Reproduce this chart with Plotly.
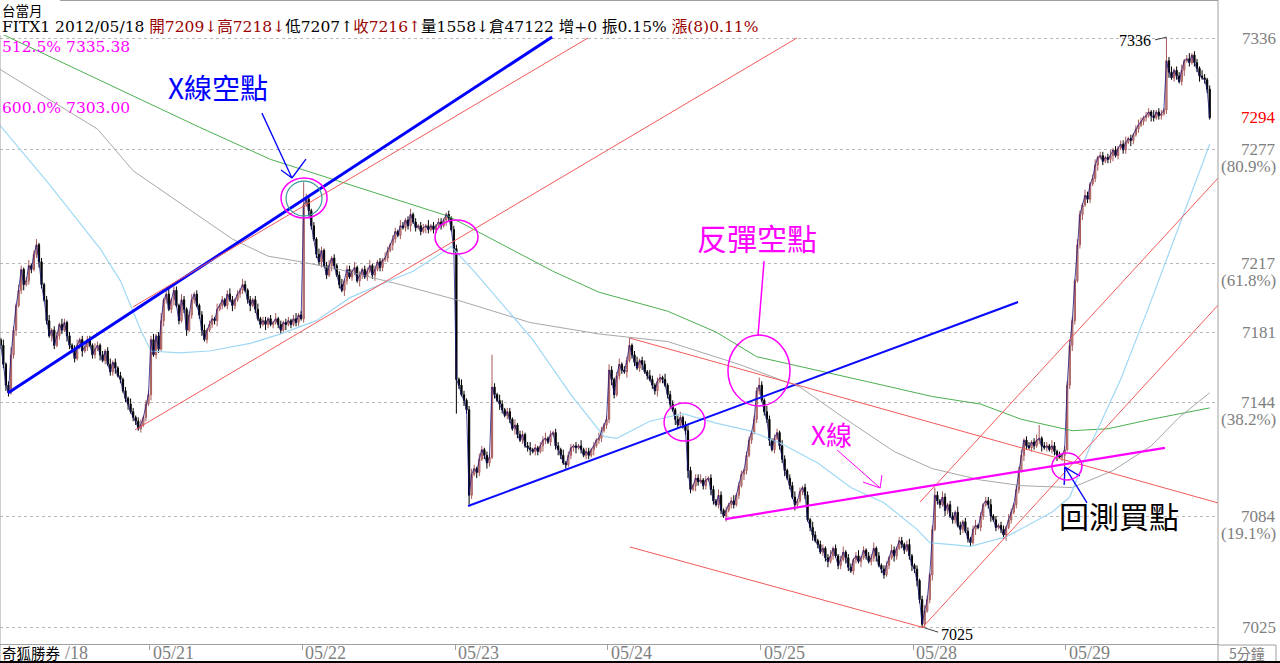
import plotly.graph_objects as go

# ---------------- data (5-minute bars, TAIEX futures FITX1) ----------------
days = ["05/18", "05/21", "05/22", "05/23", "05/24", "05/25", "05/28", "05/29"]
first_open = 7180

close_0518 = [7177, 7174, 7164, 7153, 7149, 7169, 7182, 7195, 7203, 7214,
              7206, 7208, 7216, 7214, 7222, 7227, 7218, 7206, 7198, 7187,
              7179, 7182, 7174, 7179, 7185, 7182, 7186, 7179, 7174, 7172,
              7167, 7174, 7177, 7171, 7173, 7177, 7174, 7169, 7172, 7174,
              7169, 7166, 7171, 7164, 7160, 7165, 7162, 7158, 7156, 7150,
              7146, 7143, 7139, 7136, 7134, 7130, 7132, 7136, 7143, 7148]
close_0521 = [7177, 7169, 7179, 7172, 7187, 7198, 7201, 7193, 7198, 7203,
              7195, 7187, 7198, 7193, 7182, 7190, 7198, 7201, 7195, 7190,
              7182, 7177, 7182, 7185, 7188, 7187, 7193, 7195, 7198, 7195,
              7201, 7198, 7195, 7198, 7201, 7203, 7206, 7203, 7198, 7195,
              7198, 7193, 7188, 7185, 7187, 7185, 7188, 7185, 7186, 7188,
              7185, 7182, 7186, 7185, 7187, 7185, 7188, 7186, 7190, 7188]
close_0522 = [7248, 7251, 7245, 7237, 7230, 7222, 7218, 7224, 7216, 7211,
              7216, 7220, 7216, 7211, 7206, 7203, 7208, 7214, 7210, 7213,
              7215, 7208, 7211, 7214, 7210, 7213, 7216, 7211, 7214, 7218,
              7215, 7219, 7220, 7224, 7227, 7230, 7234, 7232, 7237, 7236,
              7240, 7237, 7243, 7239, 7236, 7237, 7234, 7236, 7237, 7235,
              7237, 7235, 7237, 7239, 7237, 7240, 7243, 7241, 7235, 7225]
close_0523 = [7156, 7153, 7148, 7145, 7140, 7095, 7106, 7109, 7107, 7114,
              7119, 7116, 7112, 7115, 7152, 7148, 7145, 7143, 7140, 7137,
              7139, 7135, 7130, 7132, 7127, 7124, 7127, 7121, 7120, 7119,
              7118, 7120, 7118, 7121, 7124, 7125, 7123, 7127, 7128, 7121,
              7119, 7116, 7112, 7111, 7116, 7120, 7121, 7120, 7121, 7119,
              7116, 7118, 7116, 7119, 7121, 7124, 7125, 7129, 7132, 7135]
close_0524 = [7161, 7156, 7148, 7158, 7164, 7161, 7160, 7166, 7174, 7169,
              7165, 7162, 7166, 7164, 7160, 7158, 7156, 7153, 7150, 7155,
              7157, 7156, 7153, 7148, 7143, 7140, 7135, 7132, 7136, 7132,
              7129, 7108, 7098, 7100, 7104, 7102, 7103, 7100, 7103, 7104,
              7098, 7092, 7090, 7095, 7087, 7084, 7087, 7090, 7092, 7090,
              7095, 7100, 7106, 7108, 7116, 7124, 7128, 7135, 7150, 7153]
close_0525 = [7145, 7139, 7135, 7124, 7119, 7125, 7128, 7121, 7114, 7108,
              7104, 7100, 7094, 7090, 7092, 7097, 7099, 7095, 7082, 7078,
              7074, 7071, 7069, 7065, 7067, 7062, 7060, 7063, 7067, 7063,
              7058, 7061, 7065, 7062, 7057, 7055, 7061, 7063, 7060, 7062,
              7066, 7063, 7060, 7062, 7067, 7063, 7058, 7056, 7053, 7058,
              7062, 7066, 7063, 7067, 7071, 7069, 7066, 7069, 7063, 7058]
close_0528 = [7056, 7050, 7040, 7027, 7034, 7040, 7053, 7077, 7095, 7092,
              7090, 7094, 7087, 7090, 7084, 7082, 7086, 7079, 7077, 7081,
              7076, 7072, 7070, 7077, 7079, 7078, 7084, 7090, 7092, 7090,
              7084, 7082, 7078, 7079, 7077, 7074, 7078, 7082, 7086, 7090,
              7098, 7108, 7116, 7124, 7121, 7120, 7123, 7121, 7124, 7125,
              7121, 7120, 7121, 7119, 7121, 7118, 7116, 7115, 7116, 7119]
close_0529 = [7153, 7174, 7187, 7208, 7227, 7243, 7248, 7253, 7251, 7259,
              7262, 7269, 7273, 7274, 7271, 7273, 7272, 7274, 7277, 7274,
              7278, 7280, 7277, 7281, 7283, 7282, 7285, 7288, 7290, 7292,
              7294, 7295, 7297, 7295, 7294, 7297, 7295, 7296, 7298, 7324,
              7318, 7315, 7319, 7316, 7313, 7319, 7324, 7325, 7323, 7327,
              7323, 7320, 7316, 7315, 7314, 7309, 7294]

# upper / lower shadow length of each bar (points)
up_0518 = [2, 1, 3, 1, 2, 4, 2, 1, 3, 2, 1, 2, 3, 1, 2, 3, 1, 2, 1, 2,
           3, 1, 2, 2, 1, 3, 2, 1, 2, 1, 2, 3, 1, 2, 1, 2, 2, 1, 3, 2,
           1, 2, 1, 2, 3, 1, 2, 1, 2, 1, 2, 1, 3, 2, 1, 2, 3, 1, 2, 2]
dn_0518 = [1, 2, 2, 3, 2, 1, 2, 3, 1, 2, 3, 1, 2, 2, 1, 2, 3, 2, 1, 2,
           1, 3, 2, 1, 2, 2, 1, 3, 2, 1, 2, 1, 2, 3, 1, 2, 1, 2, 2, 1,
           3, 1, 2, 1, 2, 2, 3, 1, 2, 1, 2, 3, 1, 2, 2, 1, 2, 1, 2, 1]
up_0521 = [2, 3, 1, 2, 4, 1, 2, 3, 1, 2, 2, 1, 3, 2, 1, 2, 3, 1, 2, 1,
           2, 3, 1, 2, 2, 1, 3, 1, 2, 1, 2, 3, 2, 1, 2, 1, 3, 2, 1, 2,
           1, 2, 3, 1, 2, 2, 1, 2, 1, 3, 1, 2, 1, 2, 2, 1, 2, 3, 1, 2]
dn_0521 = [3, 1, 2, 2, 1, 3, 2, 1, 2, 3, 1, 2, 1, 2, 3, 1, 2, 2, 1, 2,
           3, 1, 2, 1, 2, 2, 3, 1, 2, 1, 2, 1, 3, 2, 1, 2, 2, 1, 2, 3,
           1, 2, 1, 2, 1, 3, 2, 1, 2, 1, 2, 2, 1, 3, 1, 2, 1, 2, 2, 1]
up_0522 = [12, 3, 2, 1, 2, 1, 3, 2, 1, 2, 3, 1, 2, 1, 2, 3, 1, 2, 2, 1,
           3, 1, 2, 1, 2, 2, 3, 1, 2, 1, 2, 1, 3, 2, 1, 2, 2, 1, 3, 2,
           1, 2, 3, 1, 2, 1, 2, 2, 1, 3, 1, 2, 1, 2, 2, 1, 1, 2, 1, 2]
dn_0522 = [2, 1, 3, 2, 1, 2, 2, 3, 1, 2, 1, 3, 2, 1, 2, 1, 3, 2, 1, 2,
           2, 1, 3, 2, 1, 2, 1, 2, 3, 1, 2, 2, 1, 2, 1, 3, 2, 1, 2, 1,
           2, 2, 3, 1, 2, 1, 2, 1, 3, 2, 1, 2, 2, 1, 2, 1, 3, 2, 1, 2]
up_0523 = [2, 1, 3, 2, 1, 2, 3, 2, 1, 3, 2, 1, 2, 2, 17, 2, 1, 3, 2, 1,
           2, 2, 1, 3, 1, 2, 2, 1, 2, 3, 1, 2, 1, 2, 2, 3, 1, 2, 1, 2,
           2, 1, 3, 1, 2, 2, 1, 2, 1, 3, 1, 2, 2, 1, 2, 1, 3, 2, 1, 2]
dn_0523 = [18, 2, 1, 3, 2, 5, 2, 1, 3, 2, 1, 2, 3, 2, 1, 2, 1, 3, 2, 1,
           2, 2, 1, 3, 2, 1, 2, 1, 2, 3, 1, 2, 2, 1, 3, 2, 1, 2, 1, 2,
           3, 2, 1, 2, 1, 2, 2, 3, 1, 2, 1, 2, 2, 1, 3, 1, 2, 2, 1, 2]
up_0524 = [3, 2, 1, 2, 3, 1, 2, 2, 4, 1, 2, 3, 1, 2, 2, 1, 3, 2, 1, 2,
           2, 1, 3, 1, 2, 2, 1, 2, 3, 1, 2, 3, 2, 1, 2, 2, 3, 1, 2, 1,
           2, 2, 1, 3, 2, 1, 2, 1, 2, 3, 1, 2, 2, 1, 2, 2, 1, 2, 2, 4]
dn_0524 = [2, 3, 2, 1, 2, 2, 1, 3, 1, 2, 2, 1, 2, 3, 1, 2, 1, 2, 2, 3,
           1, 2, 1, 2, 2, 1, 3, 2, 1, 2, 2, 4, 2, 1, 3, 2, 1, 2, 2, 1,
           3, 2, 1, 2, 2, 1, 3, 1, 2, 2, 1, 2, 1, 3, 2, 1, 2, 1, 2, 2]
up_0525 = [2, 1, 3, 2, 1, 2, 2, 1, 3, 2, 1, 2, 2, 3, 1, 2, 1, 2, 2, 1,
           3, 2, 1, 2, 2, 1, 2, 3, 1, 2, 1, 2, 3, 1, 2, 2, 1, 2, 3, 1,
           2, 1, 2, 2, 3, 1, 2, 1, 2, 2, 1, 3, 2, 1, 2, 2, 1, 2, 3, 1]
dn_0525 = [1, 2, 2, 3, 1, 2, 1, 2, 2, 3, 1, 2, 1, 3, 2, 1, 2, 2, 1, 2,
           3, 1, 2, 1, 2, 2, 3, 1, 2, 1, 2, 2, 1, 3, 2, 1, 2, 2, 1, 3,
           1, 2, 1, 2, 2, 3, 1, 2, 2, 1, 2, 1, 3, 2, 1, 2, 2, 1, 2, 3]
up_0528 = [1, 2, 1, 2, 3, 2, 1, 2, 4, 2, 1, 3, 2, 1, 2, 2, 1, 3, 2, 1,
           2, 2, 1, 2, 3, 1, 2, 1, 2, 2, 3, 1, 2, 1, 2, 2, 1, 3, 2, 1,
           2, 2, 3, 1, 2, 2, 1, 2, 3, 7, 1, 2, 2, 1, 3, 2, 1, 2, 1, 2]
dn_0528 = [2, 3, 2, 2, 2, 1, 2, 3, 1, 2, 2, 1, 3, 2, 1, 2, 2, 1, 3, 2,
           1, 2, 2, 1, 3, 1, 2, 2, 1, 2, 3, 1, 2, 1, 2, 2, 3, 1, 2, 1,
           2, 2, 1, 3, 2, 1, 2, 2, 1, 2, 3, 1, 2, 1, 2, 2, 3, 1, 2, 15]
up_0529 = [2, 3, 2, 1, 3, 2, 1, 3, 2, 1, 2, 3, 1, 2, 2, 1, 2, 3, 1, 2,
           1, 2, 2, 3, 1, 2, 1, 2, 3, 2, 1, 2, 2, 1, 3, 1, 2, 2, 1, 12,
           2, 3, 1, 2, 2, 3, 1, 2, 3, 1, 2, 2, 1, 3, 2, 1, 2]
dn_0529 = [1, 2, 3, 2, 1, 2, 3, 1, 2, 2, 1, 2, 3, 1, 2, 1, 2, 2, 3, 1,
           2, 1, 2, 2, 1, 3, 2, 1, 2, 1, 2, 2, 1, 3, 2, 1, 2, 2, 1, 2,
           3, 1, 2, 2, 1, 2, 3, 1, 2, 1, 2, 2, 3, 1, 2, 2, 1]

# moving averages at their vertices: (bar index, price)
ma_blue_idx = [0, 20, 40, 48, 56, 60, 71, 83, 99, 111, 125, 138, 150, 163, 178, 187, 210, 225, 238,
               243, 256, 269, 282, 295, 308, 322, 335, 348, 361, 366, 382, 396, 414, 421, 430, 441, 452, 476]
ma_blue_val = [7291, 7259, 7225, 7208, 7182, 7171, 7170, 7171, 7175, 7180, 7187, 7199, 7206, 7213, 7226,
               7213, 7177, 7148, 7126, 7125, 7134, 7138, 7133, 7129, 7122, 7112, 7099, 7091, 7077, 7070,
               7068, 7073, 7086, 7094, 7124, 7156, 7194, 7280]
ma_gray_idx = [0, 39, 53, 79, 92, 106, 119, 134, 158, 180, 209, 236, 263, 291, 315, 332, 352, 367, 386,
               402, 422, 438, 453, 464, 476]
ma_gray_val = [7320, 7288, 7266, 7242, 7230, 7221, 7218, 7214, 7206, 7198, 7186, 7180, 7176, 7164, 7152,
               7136, 7118, 7109, 7103, 7100, 7099, 7108, 7121, 7136, 7149]
ma_green_idx = [0, 79, 107, 135, 177, 218, 236, 263, 282, 298, 315, 341, 367, 386, 402, 422, 436, 453, 476]
ma_green_val = [7339, 7289, 7272, 7260, 7242, 7213, 7202, 7192, 7181, 7168, 7163, 7155, 7147, 7143, 7135,
                7129, 7130, 7135, 7141]

axis_levels = [7336, 7294, 7277, 7217, 7181, 7144, 7084, 7025]
axis_pct = {7277: "(80.9%)", 7217: "(61.8%)", 7144: "(38.2%)", 7084: "(19.1%)"}
grid_levels = [7336, 7277, 7217, 7181, 7144, 7084, 7025]

# ---------------- build OHLC ----------------
closes = close_0518 + close_0521 + close_0522 + close_0523 + close_0524 + close_0525 + close_0528 + close_0529
ups = up_0518 + up_0521 + up_0522 + up_0523 + up_0524 + up_0525 + up_0528 + up_0529
dns = dn_0518 + dn_0521 + dn_0522 + dn_0523 + dn_0524 + dn_0525 + dn_0528 + dn_0529
assert len(closes) == len(ups) == len(dns), (len(closes), len(ups), len(dns))
opens = [first_open] + closes[:-1]
highs = [max(o, c) + u for o, c, u in zip(opens, closes, ups)]
lows = [min(o, c) - d for o, c, d in zip(opens, closes, dns)]
xs = list(range(len(closes)))
BARS = 60

# ---------------- layout geometry ----------------
W, H = 1280, 663
ML, MR, MT, MB = 0, 62, 35, 19
PW, PH = W - ML - MR, H - MT - MB
XR = [0.68, 479.26]
YR = [7016.55, 7337.58]


def xp(px):
    return px / PW


def yp(py):
    return (H - MB - py) / PH


SERIF = "Liberation Serif, Noto Sans CJK TC"
DSERIF = "DejaVu Serif, Noto Sans CJK TC"
CJK = "Noto Sans CJK TC, Liberation Serif"
MAG = "#ff00ff"
RED = "#f25a5a"

fig = go.Figure()
fig.add_trace(go.Scatter(x=ma_green_idx, y=ma_green_val, mode="lines", line=dict(color="#4caf50", width=1),
                         hoverinfo="skip"))
fig.add_trace(go.Scatter(x=ma_gray_idx, y=ma_gray_val, mode="lines", line=dict(color="#a8a8a8", width=1),
                         hoverinfo="skip"))
fig.add_trace(go.Scatter(x=ma_blue_idx, y=ma_blue_val, mode="lines", line=dict(color="#9fd8f5", width=1.2),
                         hoverinfo="skip"))
fig.add_trace(go.Candlestick(
    x=xs, open=opens, high=highs, low=lows, close=closes,
    increasing=dict(line=dict(color="#a85858", width=1), fillcolor="#d4a4a4"),
    decreasing=dict(line=dict(color="#000000", width=1), fillcolor="#000000"),
    whiskerwidth=0,
))
fig.add_trace(go.Scatter(x=xs, y=closes, mode="lines", line=dict(color="rgba(20,20,130,0.75)", width=1),
                         hoverinfo="skip"))

shapes = []


def dline(x0, y0, x1, y1, color, width):
    shapes.append(dict(type="line", xref="x", yref="y", x0=x0, y0=y0, x1=x1, y1=y1,
                       line=dict(color=color, width=width), layer="above"))


def dellipse(x0, x1, y0, y1, color, width=1.5):
    shapes.append(dict(type="circle", xref="x", yref="y", x0=x0, x1=x1, y0=y0, y1=y1,
                       line=dict(color=color, width=width), layer="above"))


def pline(x0, y0, x1, y1, color, width):
    shapes.append(dict(type="line", xref="paper", yref="paper", x0=xp(x0), y0=yp(y0), x1=xp(x1), y1=yp(y1),
                       line=dict(color=color, width=width), layer="above"))


# drawn trend lines (bar index, price)
dline(3.8, 7148.9, 217.6, 7336.5, "#0000ff", 3)
dline(52.9, 7194.2, 231.7, 7336.0, RED, 1)
dline(53.7, 7129.4, 313.8, 7336.0, RED, 1)
dline(184.6, 7089.3, 400.7, 7196.8, "#0a0aff", 2)
dline(248.2, 7177.8, 479.3, 7090.9, RED, 1)
dline(248.2, 7067.7, 364.1, 7025.0, RED, 1)
dline(363.3, 7025.5, 479.3, 7195.2, RED, 1)
dline(362.2, 7091.4, 479.3, 7262.2, RED, 1)
dline(285.6, 7082.4, 458.4, 7119.9, MAG, 2.2)
# arrows / pointers
dline(103.6, 7296.4, 115.4, 7262.2, "#0000ff", 1.3)
dline(111.1, 7266.4, 115.4, 7262.2, "#0000ff", 1.3)
dline(120.9, 7272.2, 115.4, 7262.2, "#0000ff", 1.3)
dline(427.8, 7090.9, 419.1, 7109.8, "#0000ff", 1.3)
dline(418.8, 7100.4, 419.1, 7109.8, "#0000ff", 1.3)
dline(425.0, 7105.1, 419.1, 7109.8, "#0000ff", 1.3)
dline(329.6, 7118.8, 346.5, 7098.8, MAG, 1)
dline(339.8, 7101.9, 346.5, 7098.8, MAG, 1)
dline(347.2, 7105.6, 346.5, 7098.8, MAG, 1)
dline(300.9, 7218.4, 298.5, 7178.9, MAG, 1.5)
dline(454.5, 7335.0, 459.2, 7336.5, "#404040", 1)
dline(364.1, 7025.0, 369.3, 7022.8, "#404040", 1)
# circles
dellipse(111.1, 129.2, 7241.1, 7262.2, MAG)
dellipse(113.1, 127.2, 7242.2, 7260.6, "#3a9a9a", 1.2)
dellipse(171.6, 188.5, 7222.1, 7240.1, MAG)
dellipse(286.7, 311.1, 7142.0, 7179.4, MAG)
dellipse(261.6, 277.7, 7123.5, 7143.6, MAG)
dellipse(414.0, 425.8, 7103.0, 7117.2, MAG)
# frame
pline(60, 0.5, 1218, 0.5, "#a0a0a0", 1)
pline(1218, 0, 1218, 663, "#a0a0a0", 1)
pline(0, 35, 0, 663, "#a0a0a0", 1)
pline(1218, 645, 1276, 645, "#a0a0a0", 1)
pline(1276, 645, 1276, 663, "#a0a0a0", 1)
pline(0, 662, 1280, 662, "#000000", 2)

ann = []


def ptext(text, x, y, size, color, family=SERIF, xanchor="center", height=None):
    a = dict(text=text, xref="paper", yref="paper", x=xp(x), y=yp(y), xanchor=xanchor, yanchor="middle",
             showarrow=False, font=dict(size=size, color=color, family=family))
    if height:
        a["height"] = height
    ann.append(a)


DR = "#990000"
header = ("FITX1 2012/05/18 "
          + "<span style='color:" + DR + "'>開7209↓高7218↓</span>"
          + "低7207↑"
          + "<span style='color:" + DR + "'>收7216↑</span>"
          + "量1558↓倉47122 增+0 振0.15% "
          + "<span style='color:" + DR + "'>漲(8)0.11%</span>")
ptext("台當月", 0, 9.5, 13.5, "#000000", CJK, "left", height=17)
ptext(header, 0, 26.5, 15.5, "#000000", DSERIF, "left", height=15)
ptext("512.5% 7335.38", 0, 47, 15.5, MAG, DSERIF, "left")
ptext("600.0% 7303.00", 0, 108, 15.5, MAG, DSERIF, "left")
ptext("X線空點", 218, 87, 28, "#0000ff", CJK)
ptext("反彈空點", 757, 237, 30, MAG, CJK)
ptext("X線", 831, 433, 26, MAG, CJK)
ptext("回測買點", 1119, 515, 30, "#000000", CJK)
ptext("7336", 1135, 41, 16, "#000000")
ptext("7025", 957, 634, 16, "#000000")
ptext("5分鐘", 1247, 652.5, 14, "#808080", CJK)

# right-axis price labels
for lv in axis_levels:
    ann.append(dict(text=str(lv), xref="paper", yref="y", x=xp(1278), y=lv, xanchor="right", yanchor="middle",
                    showarrow=False, font=dict(size=17, color="#ff0000" if lv == 7294 else "#808080", family=SERIF)))
    if lv in axis_pct:
        ann.append(dict(text=axis_pct[lv], xref="paper", yref="y", x=xp(1278), y=lv, xanchor="right",
                        yanchor="middle", yshift=-17, showarrow=False,
                        font=dict(size=17, color="#808080", family=SERIF)))

# date labels (the first one is mostly hidden behind the broker name; only "/18" shows)
for d, lab in enumerate(days):
    if d == 0:
        ann.append(dict(text=lab[2:], xref="paper", yref="paper", x=xp(63), y=yp(653), xanchor="left",
                        yanchor="middle", showarrow=False, font=dict(size=18, color="#808080", family=SERIF)))
    else:
        ann.append(dict(text=lab, xref="x", yref="paper", x=d * BARS - 0.5, y=yp(653), xanchor="left",
                        xshift=1, yanchor="middle", showarrow=False,
                        font=dict(size=18, color="#808080", family=SERIF)))
ptext("奇狐勝券", 0, 652.5, 14.5, "#000000", CJK, "left")

fig.update_layout(
    width=W, height=H, margin=dict(l=ML, r=MR, t=MT, b=MB, autoexpand=False),
    paper_bgcolor="#ffffff", plot_bgcolor="#ffffff", showlegend=False,
    shapes=shapes, annotations=ann,
    xaxis=dict(range=XR, showgrid=False, zeroline=False, showline=True, linecolor="#a0a0a0",
               tickvals=[d * BARS - 0.5 for d in range(1, len(days))], ticks="outside", ticklen=5,
               tickcolor="#a0a0a0", showticklabels=False, rangeslider=dict(visible=False), fixedrange=True),
    yaxis=dict(range=YR, side="right", showgrid=True, gridcolor="#b8b8b8", griddash="dot", gridwidth=1,
               tickvals=grid_levels, showticklabels=False, zeroline=False, showline=False, fixedrange=True),
)

fig.write_html("out.html", config={"displayModeBar": False},
               post_script="document.body.style.margin='0px';")
